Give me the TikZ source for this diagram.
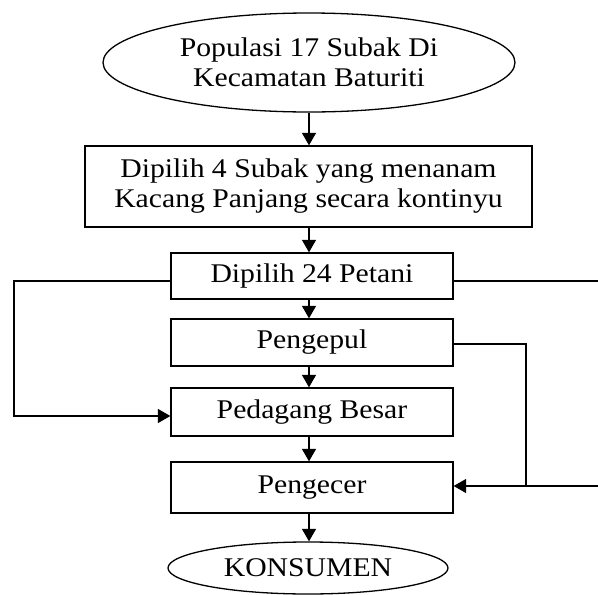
\documentclass[tikz,border=0pt]{standalone}
\usepackage{fontspec}
\setmainfont{Liberation Serif}[FakeStretch=1.1]
\usetikzlibrary{shapes.geometric,arrows.meta,calc}
\begin{document}
\begin{tikzpicture}[x=1pt,y=-1pt,
  every node/.style={font=\fontsize{27}{30}\selectfont, align=center, inner sep=0pt},
  boxnode/.style={draw, line width=1.3pt, rectangle},
  ovalnode/.style={draw, line width=1.3pt, ellipse},
  conn/.style={line width=1.3pt},
  arr/.style={conn, -{Triangle[length=12.5pt,width=14pt]}}]
\useasboundingbox (0,0) rectangle (598,595);
\node[ovalnode, minimum width=412pt, minimum height=99pt] (pop) at (309,62.5) {Populasi 17 Subak Di\\Kecamatan Baturiti};
\node[boxnode, minimum width=447pt, minimum height=81pt] (pilih) at (308.5,186.5) {Dipilih 4 Subak yang menanam\\Kacang Panjang secara kontinyu};
\node[boxnode, minimum width=282pt, minimum height=46pt] (petani) at (312,276) {Dipilih 24 Petani};
\node[boxnode, minimum width=282pt, minimum height=47pt] (pengepul) at (312,342.5) {Pengepul};
\node[boxnode, minimum width=282pt, minimum height=48pt] (besar) at (312,412) {Pedagang Besar};
\node[boxnode, minimum width=282pt, minimum height=51pt] (pengecer) at (312,487.5) {Pengecer};
\node[ovalnode, minimum width=280pt, minimum height=52pt] (kons) at (308,568) {KONSUMEN};
% main vertical arrows
\draw[arr] (pop.south) -- (pop.south |- pilih.north);
\draw[arr] (pop.south |- pilih.south) -- (pop.south |- petani.north);
\draw[arr] (pop.south |- petani.south) -- (pop.south |- pengepul.north);
\draw[arr] (pop.south |- pengepul.south) -- (pop.south |- besar.north);
\draw[arr] (pop.south |- besar.south) -- (pop.south |- pengecer.north);
\draw[arr] (pop.south |- pengecer.south) -- (pop.south |- kons.north);
% left loop
\coordinate (lx) at (14,0);
\coordinate (bw) at ([yshift=-4pt]besar.west);
\draw[arr] ([yshift=-5pt]petani.west) -| (lx |- bw) -- (bw);
% right lines
\coordinate (r1) at (598,281);
\coordinate (j) at (526,486);
\coordinate (r2) at (598,486);
\draw[conn] ([yshift=-5pt]petani.east) -- (r1);
\draw[conn] ([yshift=-1.5pt]pengepul.east) -| (j);
\draw[arr] (r2) -- (pengecer.east |- r2);
\end{tikzpicture}
\end{document}
